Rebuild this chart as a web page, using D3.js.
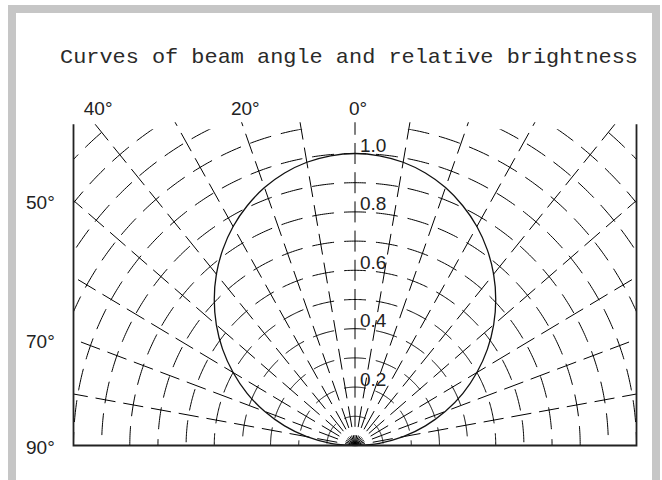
<!DOCTYPE html>
<html>
<head>
<meta charset="utf-8">
<script src="https://cdn.jsdelivr.net/npm/d3@7"></script>
<style>
  html, body { margin: 0; padding: 0; background: #fff; }
  svg { display: block; }
</style>
</head>
<body>
<svg id="chart" width="662" height="480"></svg>
<script>
// ---------------- data ----------------
const titleText = "Curves of beam angle and relative brightness";
// radial grid lines (beam angle, degrees)
const gridAngles = [-90, -80, -70, -60, -50, -40, -30, -20, -10, 0, 10, 20, 30, 40, 50, 60, 70, 80, 90];
// concentric rings (relative brightness)
const gridRadii = [0.1, 0.2, 0.3, 0.4, 0.5, 0.6, 0.7, 0.8, 0.9, 1.0, 1.1, 1.2, 1.3, 1.4];
// brightness tick labels along 0°
const radiusTicks = [0.2, 0.4, 0.6, 0.8, 1.0];
const radiusTickLabels = ["0.2", "0.4", "0.6", "0.8", "1.0"];
// angle labels
const topAngleTicks = [-40, -20, 0];
const topAngleLabels = ["40°", "20°", "0°"];
const sideAngleTicks = [-50, -70, -90];
const sideAngleLabels = ["50°", "70°", "90°"];
// relative brightness curve (angle in degrees, relative brightness)
const curveAngles = [-90, -85, -80, -75, -70, -65, -60, -55, -50, -45, -40, -35, -30, -25, -20, -15, -10, -5, 0,
                     5, 10, 15, 20, 25, 30, 35, 40, 45, 50, 55, 60, 65, 70, 75, 80, 85, 90];
const curveValues = [0, 0.087, 0.174, 0.259, 0.342, 0.423, 0.5, 0.574, 0.643, 0.707, 0.766, 0.819, 0.866, 0.906, 0.94, 0.966, 0.985, 0.996, 1.0,
                     0.996, 0.985, 0.966, 0.94, 0.906, 0.866, 0.819, 0.766, 0.707, 0.643, 0.574, 0.5, 0.423, 0.342, 0.259, 0.174, 0.087, 0];

// ---------------- scales ----------------
const svg = d3.select("#chart");
const xs = d3.scaleLinear().domain([-1, 1]).range([73.5, 636.5]);
const ys = d3.scaleLinear().domain([0, 1]).range([445.5, 153.5]);
const boxTop = 1.1;
const rad = d => d * Math.PI / 180;
const px = (r, a) => xs(r * Math.sin(rad(a)));
const py = (r, a) => ys(r * Math.cos(rad(a)));

// frame
svg.append("rect")
  .attr("x", 12).attr("y", 9).attr("width", 644).attr("height", 490)
  .attr("fill", "none").attr("stroke", "#c6c6c6").attr("stroke-width", 8);

// title
svg.append("text")
  .attr("x", 60).attr("y", 63)
  .attr("font-family", "'Liberation Mono', 'DejaVu Sans Mono', monospace")
  .attr("font-size", 21)
  .attr("fill", "#2a2a2a")
  .attr("textLength", 578).attr("lengthAdjust", "spacingAndGlyphs")
  .text(titleText);

// clips
const defs = svg.append("defs");
defs.append("clipPath").attr("id", "ringclip")
  .append("rect")
  .attr("x", xs(-1)).attr("y", ys(boxTop) + 5)
  .attr("width", xs(1) - xs(-1)).attr("height", ys(0) - ys(boxTop) - 5);
defs.append("clipPath").attr("id", "rayclip")
  .append("rect")
  .attr("x", xs(-1)).attr("y", ys(boxTop) - 2)
  .attr("width", xs(1) - xs(-1)).attr("height", ys(0) - ys(boxTop) + 2);

const gRings = svg.append("g").attr("clip-path", "url(#ringclip)");
const gRays = svg.append("g").attr("clip-path", "url(#rayclip)");

// rings
const line = d3.line().x(d => d[0]).y(d => d[1]);
const ringAngles = d3.range(-90, 90.5, 0.5);
gridRadii.forEach(r => {
  const pts = ringAngles.map(a => [px(r, a), py(r, a)]);
  const p = gRings.append("path")
    .attr("d", line(pts))
    .attr("fill", "none").attr("stroke", "#000").attr("stroke-width", 1);
  const L = p.node().getTotalLength();
  const D = 22, P = 32;
  let o = (D / 2 - L / 2) % P; if (o < 0) o += P;
  p.attr("stroke-dasharray", D + " " + (P - D)).attr("stroke-dashoffset", o);
});

// radial lines
const rMax = 1.6;
gridAngles.forEach(a => {
  gRays.append("path")
    .attr("d", line([[px(0, a), py(0, a)], [px(rMax, a), py(rMax, a)]]))
    .attr("pathLength", rMax * 1000)
    .attr("fill", "none").attr("stroke", "#000").attr("stroke-width", 1)
    .attr("stroke-dasharray", "72 28").attr("stroke-dashoffset", 36);
});

// brightness curve
const curvePts = curveAngles.map((a, i) => [px(curveValues[i], a), py(curveValues[i], a)]);
svg.append("path")
  .attr("d", d3.line().curve(d3.curveCatmullRom)(curvePts))
  .attr("fill", "none").attr("stroke", "#111").attr("stroke-width", 1.3);

// box
svg.append("path")
  .attr("d", line([[xs(-1), ys(boxTop)], [xs(-1), ys(0)], [xs(1), ys(0)], [xs(1), ys(boxTop)]]))
  .attr("fill", "none").attr("stroke", "#222").attr("stroke-width", 1.8);

// radius labels
const labelFont = "'Liberation Sans', Arial, sans-serif";
svg.selectAll("text.rl").data(radiusTicks).enter().append("text")
  .attr("class", "rl")
  .attr("x", xs(0) + 5).attr("y", d => ys(d) - 1.5)
  .attr("font-family", labelFont).attr("font-size", 19).attr("fill", "#222")
  .text((d, i) => radiusTickLabels[i]);

// top angle labels
const topY = ys(boxTop);
svg.selectAll("text.ta").data(topAngleTicks).enter().append("text")
  .attr("class", "ta")
  .attr("x", d => xs((topY - ys(0)) / (ys(1) - ys(0)) * Math.tan(rad(d))) + 3)
  .attr("y", 115)
  .attr("text-anchor", "middle")
  .attr("font-family", labelFont).attr("font-size", 19).attr("fill", "#222")
  .text((d, i) => topAngleLabels[i]);

// side angle labels
svg.selectAll("text.sa").data(sideAngleTicks).enter().append("text")
  .attr("class", "sa")
  .attr("x", 26)
  .attr("y", d => {
    const t = Math.tan(rad(-d));
    const yy = Math.abs(t) > 1e6 ? 0 : 1 / t;
    return ys(yy) + 2;
  })
  .attr("dominant-baseline", "central")
  .attr("font-family", labelFont).attr("font-size", 19).attr("fill", "#222")
  .text((d, i) => sideAngleLabels[i]);
</script>
</body>
</html>
